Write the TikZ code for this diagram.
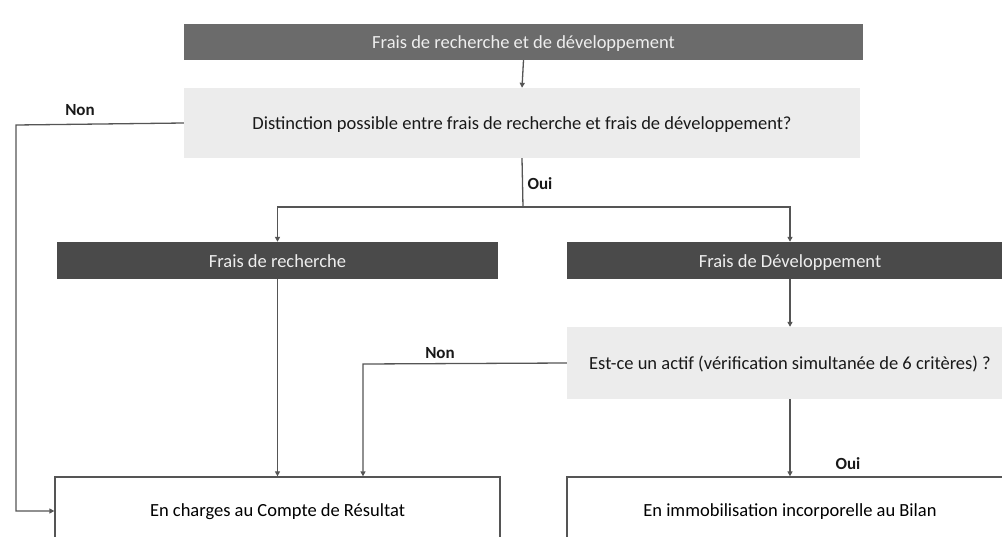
\documentclass[tikz,border=0pt]{standalone}
\usepackage{fontspec}
\setmainfont{Carlito}
\usetikzlibrary{arrows.meta}
\definecolor{darkhead}{HTML}{6B6B6B}
\definecolor{darkbox}{HTML}{4A4A4A}
\definecolor{lightbox}{HTML}{ECECEC}
\definecolor{linegray}{HTML}{555555}
\definecolor{headtext}{HTML}{EEEEEE}
\begin{document}
\begin{tikzpicture}[x=1pt,y=-1pt,
  every node/.style={inner sep=0pt, font=\fontsize{18.5}{21}\selectfont},
  boxtext/.style={text height=13.5pt, text depth=0pt},
  headbox/.style={boxtext, fill=darkhead, text=headtext, minimum height=36pt},
  branchbox/.style={boxtext, fill=darkbox, text=headtext, minimum height=37pt},
  questionbox/.style={boxtext, fill=lightbox, text=black!90},
  resultbox/.style={draw=linegray, line width=1.3pt, fill=white, text=black!90, minimum height=68pt},
  conn/.style={draw=linegray, line width=1.3pt},
  arr/.style={conn, -{Triangle[length=5pt,width=5pt]}},
  answer/.style={font=\bfseries\fontsize{17}{19}\selectfont, text=black!90}]
\useasboundingbox (0,0) rectangle (1002,536);
\clip (0,0) rectangle (1002,536);

% boxes
\node[headbox, minimum width=679pt] (top) at (523.5,42) {Frais de recherche et de développement};
\node[questionbox, minimum width=676pt, minimum height=70pt] (dist) at (522,123)
  {Distinction possible entre frais de recherche et frais de développement?};
\node[branchbox, minimum width=441pt] (rech) at (277.5,260.5) {Frais de recherche};
\node[branchbox, minimum width=446pt] (dev) at (790,260.5) {Frais de Développement};
\node[questionbox, minimum width=446pt, minimum height=72pt] (actif) at (790,363)
  {Est-ce un actif (vérification simultanée de 6 critères) ?};
\node[resultbox, minimum width=445pt] (charges) at (277.5,511) {};
\node[resultbox, minimum width=446pt] (immo) at (790,511) {};
\node[boxtext] (chargestxt) at (277.5,510) {En charges au Compte de Résultat};
\node[boxtext] (immotxt) at (790,510) {En immobilisation incorporelle au Bilan};

% connectors
\coordinate (split) at (523,207);
\coordinate (leftrail) at (16,125);
\coordinate (midrail) at (363,364);
\draw[arr] (top.south) -- (dist.north);
\draw[arr] (dist.west) -- (leftrail) |- (charges.west);
\draw[conn] (dist.south) -- (split);
\draw[arr] (split) -| (rech.north);
\draw[arr] (split) -| (dev.north);
\draw[arr] (rech.south) -- (charges.north);
\draw[arr] (dev.south) -- (actif.north);
\draw[arr] (actif.west) -- (midrail) -- (midrail |- charges.north);
\draw[arr] (actif.south) -- (immo.north);

% answers
\node[answer] (non1) at (80,110) {Non};
\node[answer] (oui1) at (540,184) {Oui};
\node[answer] (non2) at (440,353) {Non};
\node[answer] (oui2) at (848,464) {Oui};
\end{tikzpicture}
\end{document}
